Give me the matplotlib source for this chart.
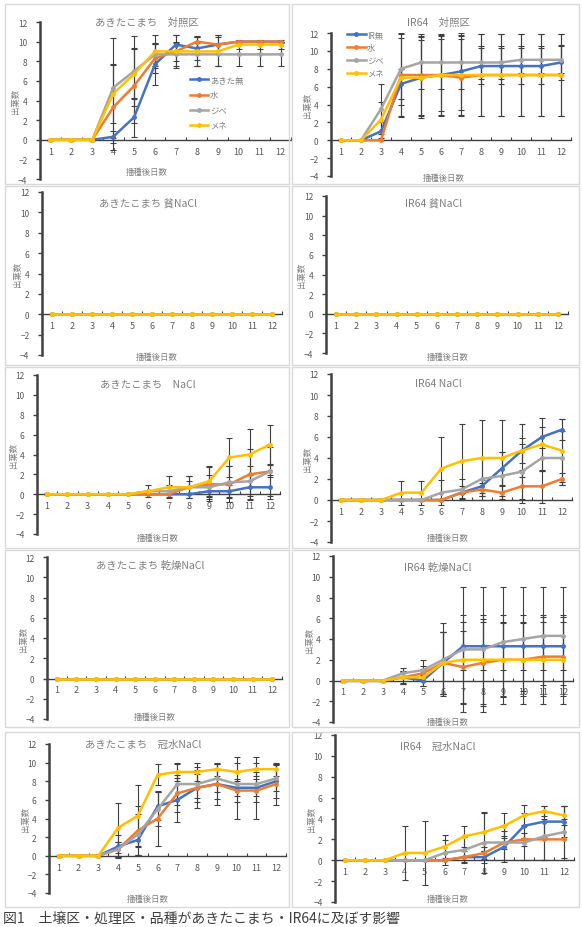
import matplotlib
matplotlib.use("Agg")
import matplotlib.pyplot as plt
from matplotlib.patches import Rectangle

plt.rcParams['font.family'] = ['Noto Sans CJK JP', 'DejaVu Sans']

W, H = 582, 928

days = [1, 2, 3, 4, 5, 6, 7, 8, 9, 10, 11, 12]
colors = ['#4472C4', '#ED7D31', '#A5A5A5', '#FFC000']
akita_labels = ['あきた無', '水', 'ジベ', 'メネ']
ir_labels = ['IR無', '水', 'ジベ', 'メネ']

# series order: 無, 水, ジベ, メネ
akita_ctrl = [
    [0, 0, 0, 0.3, 2.3, 7.7, 9.7, 9.3, 9.7, 10, 10, 10],
    [0, 0, 0, 3.3, 5.5, 8.3, 9.0, 10, 9.7, 10, 10, 10],
    [0, 0, 0, 5.3, 7.0, 8.7, 8.7, 8.7, 8.7, 8.7, 8.7, 8.7],
    [0, 0, 0, 4.7, 6.7, 9.0, 9.0, 9.0, 9.0, 9.7, 9.7, 9.7],
]
akita_ctrl_sd = [
    [0, 0, 0, 0.6, 2.0, 2.1, 1.0, 1.2, 1.0, 0, 0, 0],
    [0, 0, 0, 4.3, 3.8, 1.5, 1.0, 0.6, 1.0, 0, 0, 0],
    [0, 0, 0, 5.1, 3.6, 1.2, 1.2, 1.2, 1.2, 1.2, 1.2, 1.2],
    [0, 0, 0, 3.0, 2.5, 1.7, 1.7, 1.5, 1.5, 0.5, 0.5, 0.5],
]
ir_ctrl = [
    [0, 0, 1.0, 6.3, 7.0, 7.3, 7.7, 8.3, 8.3, 8.3, 8.3, 8.7],
    [0, 0, 0, 7.3, 7.3, 7.3, 7.0, 7.3, 7.3, 7.3, 7.3, 7.3],
    [0, 0, 3.5, 8.0, 8.7, 8.7, 8.7, 8.7, 8.7, 9.0, 9.0, 9.0],
    [0, 0, 2.3, 7.0, 7.0, 7.3, 7.3, 7.3, 7.3, 7.3, 7.3, 7.3],
]
ir_ctrl_sd = [
    [0, 0, 1.0, 1.7, 4.2, 4.0, 4.3, 2.0, 2.0, 2.0, 2.0, 2.0],
    [0, 0, 0, 4.6, 4.6, 4.6, 4.3, 4.6, 4.6, 4.6, 4.6, 4.6],
    [0, 0, 2.8, 4.0, 3.0, 3.0, 3.0, 1.8, 1.8, 1.5, 1.5, 1.5],
    [0, 0, 2.0, 4.4, 4.5, 4.5, 4.5, 4.6, 4.6, 4.6, 4.6, 4.6],
]
zero = [0, 0, 0, 0, 0, 0, 0, 0, 0, 0, 0, 0]
akita_hin = [zero, zero, zero, zero]
ir_hin = [zero, zero, zero, zero]
akita_nacl = [
    [0, 0, 0, 0, 0, 0, 0, 0, 0.3, 0.3, 0.7, 0.7],
    [0, 0, 0, 0, 0, 0, 0, 0.7, 1.0, 1.0, 2.0, 2.3],
    [0, 0, 0, 0, 0, 0.3, 0.3, 0.7, 0.7, 1.2, 1.3, 2.3],
    [0, 0, 0, 0, 0, 0.3, 0.7, 0.7, 1.3, 3.7, 4.0, 5.0],
]
akita_nacl_sd = [
    [0, 0, 0, 0, 0, 0, 0, 0, 0.6, 0.6, 1.2, 1.2],
    [0, 0, 0, 0, 0, 0, 0, 1.1, 1.7, 1.8, 2.6, 2.5],
    [0, 0, 0, 0, 0, 0, 0.6, 0.6, 1.2, 1.6, 1.5, 0.6],
    [0, 0, 0, 0, 0, 0.6, 1.1, 1.1, 1.5, 2.0, 2.6, 2.0],
]
ir_nacl = [
    [0, 0, 0, 0, 0, 0, 0.7, 1.3, 3.0, 4.7, 6.0, 6.7],
    [0, 0, 0, 0, 0, 0, 0.7, 1.0, 0.7, 1.3, 1.3, 2.0],
    [0, 0, 0, 0, 0, 0.7, 1.0, 2.0, 2.3, 2.7, 4.0, 4.0],
    [0, 0, 0, 0.7, 0.7, 3.0, 3.7, 4.0, 4.0, 4.7, 5.3, 4.7],
]
ir_nacl_sd = [
    [0, 0, 0, 0, 0, 0, 0, 0.6, 1.6, 1.2, 1.0, 1.0],
    [0, 0, 0, 0, 0, 0, 0.6, 0.6, 0.6, 1.6, 1.6, 0.6],
    [0, 0, 0, 0, 0, 1.2, 1.0, 2.0, 2.3, 2.6, 1.2, 2.6],
    [0, 0, 0, 1.15, 1.15, 3.0, 3.5, 3.6, 3.6, 2.5, 2.5, 3.0],
]
akita_dry = [zero, zero, zero, zero]
ir_dry = [
    [0, 0, 0, 0.3, 0, 1.7, 3.3, 3.3, 3.3, 3.3, 3.3, 3.3],
    [0, 0, 0, 0.3, 0.7, 1.7, 1.3, 1.7, 2.0, 2.0, 2.3, 2.3],
    [0, 0, 0, 0.7, 1.0, 2.0, 3.0, 3.0, 3.7, 4.0, 4.3, 4.3],
    [0, 0, 0, 0.3, 0.3, 1.7, 2.0, 2.0, 2.0, 2.0, 2.0, 2.0],
]
ir_dry_sd = [
    [0, 0, 0, 0.6, 0.5, 3.0, 2.3, 2.3, 2.3, 2.3, 2.3, 2.3],
    [0, 0, 0, 0.6, 0.7, 3.0, 3.5, 4.2, 3.5, 3.5, 3.8, 3.8],
    [0, 0, 0, 0.5, 1.0, 3.5, 6.0, 6.0, 5.3, 5.0, 4.7, 4.7],
    [0, 0, 0, 0.5, 0.8, 3.0, 4.3, 4.3, 4.3, 4.3, 4.3, 4.3],
]
akita_flood = [
    [0, 0, 0, 1.0, 1.7, 5.3, 6.0, 7.3, 7.7, 7.3, 7.3, 8.0],
    [0, 0, 0, 0.7, 2.7, 4.0, 6.7, 7.3, 7.7, 7.0, 7.0, 7.7],
    [0, 0, 0, 0.7, 2.3, 5.0, 7.7, 7.7, 8.3, 7.7, 7.7, 8.3],
    [0, 0, 0, 3.0, 4.3, 8.7, 9.0, 9.0, 9.3, 9.0, 9.3, 9.3],
]
akita_flood_sd = [
    [0, 0, 0, 1.2, 0.8, 1.5, 2.4, 1.5, 1.6, 3.3, 3.3, 1.8],
    [0, 0, 0, 0.8, 2.6, 3.0, 2.0, 2.2, 2.2, 1.2, 1.2, 2.2],
    [0, 0, 0, 0.8, 2.2, 1.8, 2.2, 1.5, 1.5, 1.3, 1.3, 1.4],
    [0, 0, 0, 2.7, 3.3, 1.1, 1.0, 1.0, 0.7, 1.0, 0.7, 0.7],
]
ir_flood = [
    [0, 0, 0, 0, 0, 0, 0.3, 0.3, 1.3, 3.3, 3.7, 3.7],
    [0, 0, 0, 0, 0, 0, 0.3, 0.7, 1.7, 2.0, 2.0, 2.0],
    [0, 0, 0, 0, 0, 0.7, 1.0, 1.7, 1.7, 1.7, 2.3, 2.7],
    [0, 0, 0, 0.7, 0.7, 1.3, 2.3, 2.7, 3.3, 4.3, 4.7, 4.3],
]
ir_flood_sd = [
    [0, 0, 0, 0, 0, 0, 0, 0.6, 1.5, 1.2, 1.5, 1.5],
    [0, 0, 0, 0, 0, 0, 0.6, 0.6, 0.6, 0.6, 2.0, 2.0],
    [0, 0, 0, 0, 0, 1.2, 1.2, 2.9, 1.7, 1.7, 2.3, 2.5],
    [0, 0, 0, 2.6, 3.1, 1.1, 1.0, 1.8, 1.2, 1.0, 0.5, 0.9],
]

titles = ['あきたこまち　対照区', 'IR64　対照区',
          'あきたこまち 貧NaCl', 'IR64 貧NaCl',
          'あきたこまち　NaCl', 'IR64 NaCl',
          'あきたこまち 乾燥NaCl', 'IR64 乾燥NaCl',
          'あきたこまち　冠水NaCl', 'IR64　冠水NaCl']
panel_data = [(akita_ctrl, akita_ctrl_sd), (ir_ctrl, ir_ctrl_sd),
              (akita_hin, None), (ir_hin, None),
              (akita_nacl, akita_nacl_sd), (ir_nacl, ir_nacl_sd),
              (akita_dry, None), (ir_dry, ir_dry_sd),
              (akita_flood, akita_flood_sd), (ir_flood, ir_flood_sd)]

# axes extents in pixels: left, right (x 0.5..12.5), top (y=12), bottom (y=-4)
axes_px = [(40, 291, 23, 180), (331, 571, 34, 177),
           (42, 282, 193, 356), (326, 568, 197, 354),
           (37, 280, 376, 535), (331, 572, 375, 543),
           (47, 282, 558, 720), (333, 573, 557, 723),
           (49, 286, 745, 894), (335, 574, 736, 903)]
title_px = [(147, 23), (438, 23), (148, 205), (434, 205), (148, 385),
            (438, 384), (150, 566), (438, 568), (143, 745), (438, 747)]
xlab_px = [(147, 172), (444, 178), (157, 357), (448, 357), (158, 538),
           (448, 538), (155, 717), (448, 722), (148, 899), (448, 899)]
rows_px = [(5, 185), (187, 366), (368, 549), (551, 728), (733, 908)]
cols_px = [(5, 289), (292, 579)]

fig = plt.figure(figsize=(W / 100, H / 100), dpi=100)


def fx(x):
    return x / W


def fy(y):
    return 1 - y / H


for r, (t, b) in enumerate(rows_px):
    for c, (l, rr) in enumerate(cols_px):
        fig.patches.append(Rectangle((fx(l), fy(b)), fx(rr - l), (b - t) / H,
                                     transform=fig.transFigure, fill=False,
                                     edgecolor='#d9d9d9', linewidth=1.0))

tick_col = '#595959'
for i, ((series, sds), (L, R, T, B)) in enumerate(zip(panel_data, axes_px)):
    ax = fig.add_axes([fx(L), fy(B), fx(R - L), (B - T) / H])
    ax.patch.set_alpha(0)
    for k in range(4):
        ax.plot(days, series[k], color=colors[k], linewidth=1.8, marker='o',
                markersize=2.5, zorder=3 + k,
                label=(akita_labels if i % 2 == 0 else ir_labels)[k])
        if sds is not None:
            ax.errorbar(days, series[k], yerr=sds[k], fmt='none',
                        ecolor='#404040', elinewidth=0.8, capsize=2,
                        capthick=0.8, zorder=2)
    ax.set_xlim(0.5, 12.5)
    ax.set_ylim(-4, 12)
    ax.set_yticks([-4, -2, 0, 2, 4, 6, 8, 10, 12])
    ax.set_xticks(days)
    ax.set_xticks([d + 0.5 for d in [0] + days], minor=True)
    for s in ['top', 'right']:
        ax.spines[s].set_visible(False)
    ax.spines['left'].set_color('#404040')
    ax.spines['left'].set_linewidth(1.8)
    ax.spines['bottom'].set_position(('data', 0))
    ax.spines['bottom'].set_color('#404040')
    ax.spines['bottom'].set_linewidth(1.0)
    ax.tick_params(axis='y', direction='out', length=3, width=1,
                   color='#404040', labelsize=6, labelcolor=tick_col, pad=6)
    ax.tick_params(axis='x', which='major', length=0, labelsize=6.5,
                   labelcolor=tick_col, pad=5)
    ax.tick_params(axis='x', which='minor', direction='in', length=2.5,
                   width=0.8, color='#404040')

    tx, ty = title_px[i]
    fig.text(fx(tx), fy(ty), titles[i], ha='center', va='center',
             fontsize=7.5, color='#808080')
    lx, ly = xlab_px[i]
    fig.text(fx(lx), fy(ly), '播種後日数', ha='center', va='center',
             fontsize=6, color='#808080')
    ylab_y = B - (B - T) * 8 / 16
    fig.text(fx(L - 24), fy(ylab_y), '出葉数', ha='center', va='center',
             rotation=90, fontsize=6, color='#808080')

    if i == 0:
        ax.legend(loc='upper left', bbox_to_anchor=(fx(186), fy(72)),
                  bbox_transform=fig.transFigure, frameon=False, fontsize=6,
                  labelcolor='#808080', handlelength=2.2, handletextpad=0.2,
                  labelspacing=0.75, borderpad=0)
    elif i == 1:
        ax.legend(loc='upper left', bbox_to_anchor=(fx(343), fy(27)),
                  bbox_transform=fig.transFigure, frameon=False, fontsize=6,
                  labelcolor='#808080', handlelength=2.2, handletextpad=0.2,
                  labelspacing=0.45, borderpad=0)

fig.text(fx(3), fy(926), '図1　土壌区・処理区・品種があきたこまち・IR64に及ぼす影響',
         ha='left', va='bottom', fontsize=10, color='#404040')

fig.savefig('out.png', dpi=100)
